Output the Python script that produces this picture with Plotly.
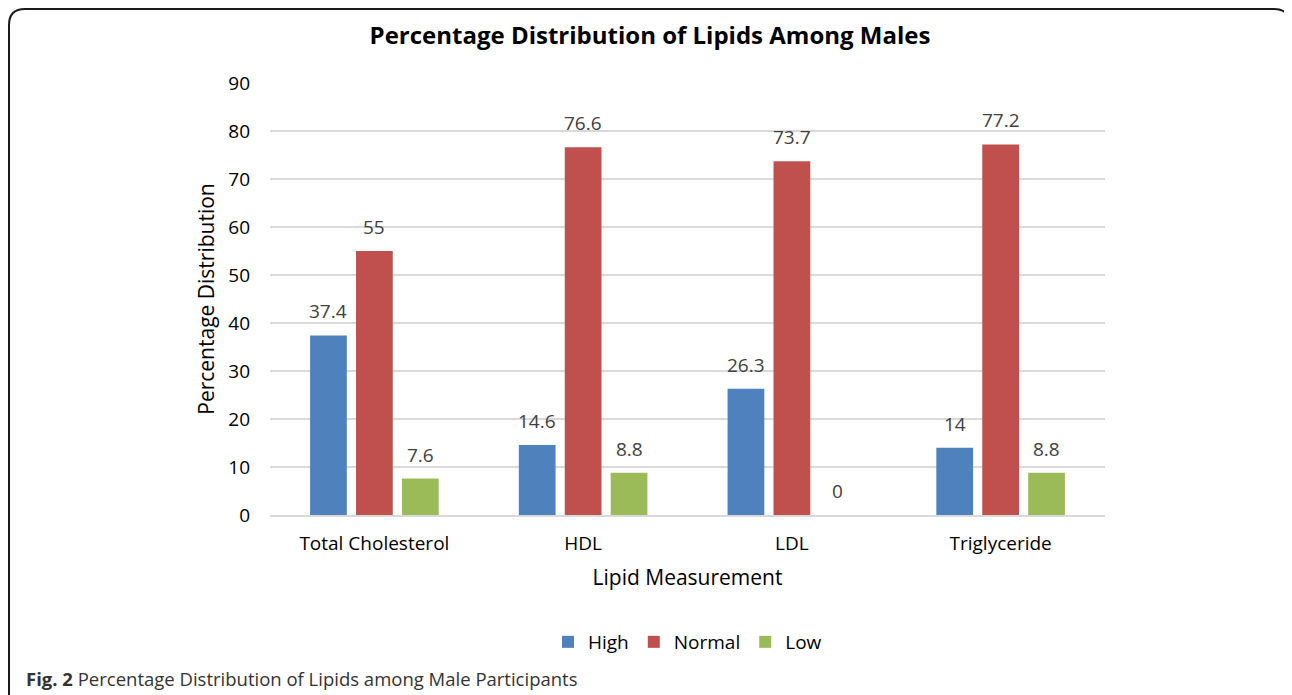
import plotly.graph_objects as go

categories = ["Total Cholesterol", "HDL", "LDL", "Triglyceride"]
high = [37.4, 14.6, 26.3, 14]
normal = [55, 76.6, 73.7, 77.2]
low = [7.6, 8.8, 0, 8.8]
series_names = ["High", "Normal", "Low"]
y_ticks = [0, 10, 20, 30, 40, 50, 60, 70, 80, 90]

colors = ["#4F81BD", "#C0504D", "#9BBB59"]
FONT = "Open Sans"
OFF = 8  # page body margin
W, H = 1292 - OFF, 695 - OFF
L, R, T, B = 270 - OFF, 1105 - OFF, 83 - OFF, 515 - OFF
BARGAP, GROUPGAP = 0.34, 0.2

fig = go.Figure()
for name, vals, col in zip(series_names, [high, normal, low], colors):
    fig.add_trace(go.Bar(
        name=name, x=categories, y=vals,
        marker=dict(color=col, line=dict(width=0)),
    ))

# data labels above each bar
cat_px = (R - L) / len(categories)
slot = cat_px * (1 - BARGAP) / len(series_names)
for i, vals in enumerate([high, normal, low]):
    for c, v in zip(categories, vals):
        fig.add_annotation(x=c, y=v, xref="x", yref="y", text=f"{v:g}",
                           showarrow=False, yanchor="bottom",
                           xshift=(i - 1) * slot, yshift=9,
                           font=dict(family=FONT, size=19, color="#404040"))

def px(x):
    return (x - OFF - L) / (R - L)

def py(y):
    return (B - (y - OFF)) / (B - T)

# rounded border
x0, y0, x1, y1, r = 9, 9, 1290, 740, 16
path = (f"M {px(x0)},{py(y1)} L {px(x0)},{py(y0 + r)} "
        f"Q {px(x0)},{py(y0)} {px(x0 + r)},{py(y0)} "
        f"L {px(x1 - r)},{py(y0)} Q {px(x1)},{py(y0)} {px(x1)},{py(y0 + r)} "
        f"L {px(x1)},{py(y1)}")
fig.add_shape(type="path", path=path, xref="paper", yref="paper",
              line=dict(color="#1a1a1a", width=2))

fig.add_annotation(
    text="<b>Fig. 2</b> Percentage Distribution of Lipids among Male Participants",
    xref="paper", yref="paper", x=px(24), y=py(678), xanchor="left", yanchor="middle",
    showarrow=False, font=dict(family=FONT, size=18.5, color="#333333"))

fig.update_layout(
    width=W, height=H,
    margin=dict(l=L, r=W - R, t=T, b=H - B),
    paper_bgcolor="white", plot_bgcolor="white",
    title=dict(text="<b>Percentage Distribution of Lipids Among Males</b>",
               x=0.5, xanchor="center", y=1 - (36 - OFF) / H, yanchor="middle",
               font=dict(family=FONT, size=24, color="#000000")),
    barmode="group", bargap=BARGAP, bargroupgap=GROUPGAP,
    legend=dict(orientation="h", x=0.5, xanchor="center", y=py(642), yanchor="middle",
                font=dict(family=FONT, size=19, color="#000000"),
                traceorder="normal", itemwidth=30),
    font=dict(family=FONT),
)
fig.update_xaxes(
    showgrid=False, showline=True, linecolor="#d9d9d9", linewidth=1.5,
    tickfont=dict(family=FONT, size=19, color="#000000"),
    ticklabelstandoff=10,
    title=dict(text="Lipid Measurement", font=dict(family=FONT, size=21, color="#000000"),
               standoff=16),
)
fig.update_yaxes(
    range=[0, 90], tickvals=y_ticks, showgrid=True, gridcolor="#d9d9d9", gridwidth=1.5,
    zeroline=False, showline=False,
    tickfont=dict(family=FONT, size=19, color="#000000"),
    ticklabelstandoff=19,
    title=dict(text="Percentage Distribution", font=dict(family=FONT, size=21, color="#000000"),
               standoff=7),
)
fig.write_html("out.html")
